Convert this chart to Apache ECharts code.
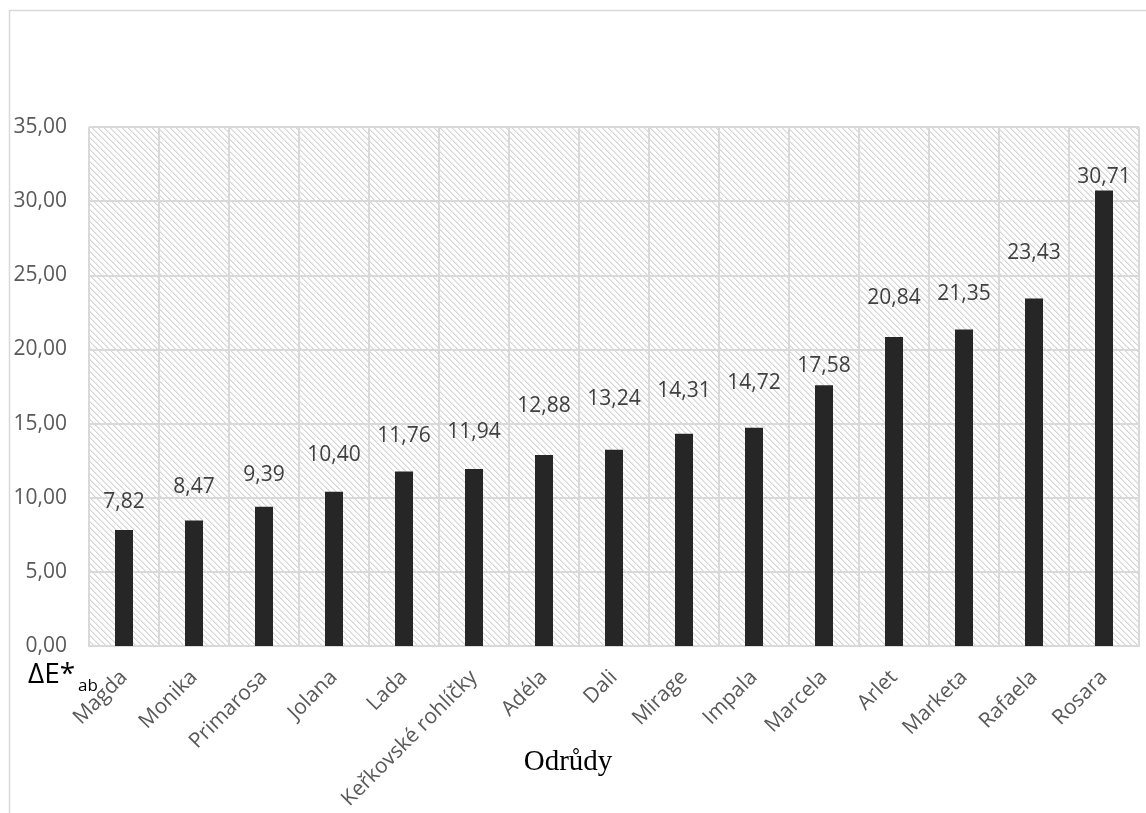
<!DOCTYPE html>
<html>
<head>
<meta charset="utf-8">
<script src="https://cdn.jsdelivr.net/npm/echarts@6/dist/echarts.min.js"></script>
<style>
  html, body { margin: 0; padding: 0; background: #ffffff; }
  #chart { width: 1146px; height: 813px; }
</style>
</head>
<body>
<div id="chart"></div>
<script>
// Colour difference ΔE*ab by variety
const categories = ['Magda', 'Monika', 'Primarosa', 'Jolana', 'Lada', 'Keřkovské rohlíčky', 'Adéla', 'Dali', 'Mirage', 'Impala', 'Marcela', 'Arlet', 'Marketa', 'Rafaela', 'Rosara'];
const deltaE = [7.82, 8.47, 9.39, 10.40, 11.76, 11.94, 12.88, 13.24, 14.31, 14.72, 17.58, 20.84, 21.35, 23.43, 30.71];
const yTicks = { min: 0, max: 35, interval: 5 };

// Hand-placed gap (px) between each bar top and its value label
const labelGap = [18, 23, 21, 26, 25, 26, 38, 40, 32, 34, 9, 28, 25, 35, 3];

// Diagonal hatch tile for the plot background
function hatchTile() {
  const size = 6;
  const c = document.createElement('canvas');
  c.width = size; c.height = size;
  const ctx = c.getContext('2d');
  ctx.fillStyle = '#ffffff';
  ctx.fillRect(0, 0, size, size);
  for (let i = 0; i < size; i++) {
    ctx.fillStyle = '#d6d6d6';
    ctx.fillRect(i, i, 1, 1);
    ctx.fillStyle = '#e8e8e8';
    ctx.fillRect((i + 1) % size, i, 1, 1);
  }
  return c;
}

const fmt = v => v.toFixed(2).replace('.', ',');
const font = '"Open Sans", "Noto Sans", sans-serif';

const barData = deltaE.map((v, i) => ({
  value: v,
  label: { distance: labelGap[i] }
}));

const chart = echarts.init(document.getElementById('chart'), null, { renderer: 'canvas' });
chart.setOption({
  animation: false,
  backgroundColor: '#ffffff',
  grid: {
    left: 89, right: 7, top: 127, bottom: 167,
    show: true,
    borderWidth: 0,
    backgroundColor: { image: hatchTile(), repeat: 'repeat' }
  },
  xAxis: {
    type: 'category',
    data: categories,
    axisLine: { show: true, lineStyle: { color: '#d9d9d9', width: 2 } },
    axisTick: { show: false },
    splitLine: { show: true, lineStyle: { color: '#d9d9d9', width: 2 } },
    axisLabel: {
      interval: 0, rotate: 45, margin: 28,
      color: '#595959', fontFamily: font, fontSize: 21
    }
  },
  yAxis: {
    type: 'value',
    min: yTicks.min, max: yTicks.max, interval: yTicks.interval,
    axisLine: { show: false },
    axisTick: { show: false },
    splitLine: { lineStyle: { color: '#d9d9d9', width: 2 } },
    axisLabel: {
      margin: 22, color: '#595959', fontFamily: font, fontSize: 21,
      formatter: fmt
    }
  },
  series: [{
    type: 'bar',
    data: barData,
    barWidth: 18,
    itemStyle: { color: '#262626' },
    label: {
      show: true, position: 'top',
      color: '#404040', fontFamily: font, fontSize: 21,
      formatter: p => fmt(p.value)
    }
  }],
  graphic: [
    {
      type: 'rect', silent: true,
      shape: { x: 9.5, y: 10.5, width: 1200, height: 900 },
      style: { fill: 'none', stroke: '#d9d9d9', lineWidth: 1.5 }
    },
    {
      type: 'text', left: 28, top: 661,
      style: { text: 'ΔE*', fill: '#000000', font: '28px "Open Sans", sans-serif' }
    },
    {
      type: 'text', left: 78, top: 678,
      style: { text: 'ab', fill: '#000000', font: '17px "Open Sans", sans-serif' }
    },
    {
      type: 'text', x: 568, y: 748,
      style: {
        text: 'Odrůdy', fill: '#000000', align: 'center', verticalAlign: 'top',
        font: '29px "Liberation Serif", "Times New Roman", serif'
      }
    }
  ]
});
</script>
</body>
</html>
